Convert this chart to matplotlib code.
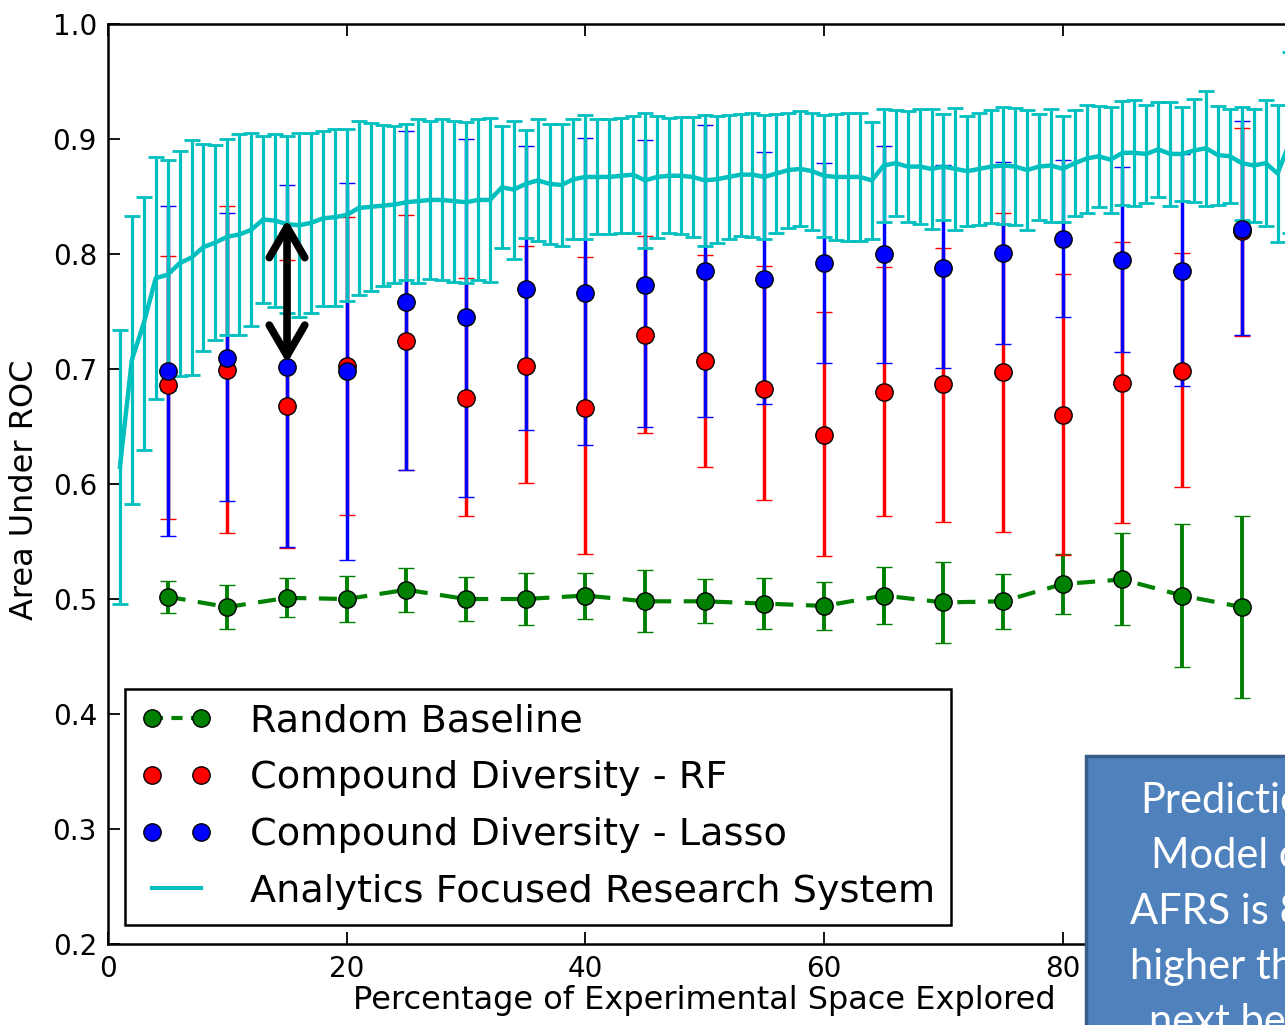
import numpy as np
import matplotlib
matplotlib.use("Agg")
import matplotlib.pyplot as plt
from matplotlib.lines import Line2D
from matplotlib.patches import Rectangle

plt.rcParams['font.family'] = ['DejaVu Sans']
plt.rcParams['lines.scale_dashes'] = False

# ---------------- data ----------------
pct = [5, 10, 15, 20, 25, 30, 35, 40, 45, 50, 55, 60, 65, 70, 75, 80, 85, 90, 95]

random_mean = [0.502, 0.493, 0.501, 0.500, 0.508, 0.500, 0.500, 0.503, 0.498, 0.498,
               0.496, 0.494, 0.503, 0.497, 0.498, 0.513, 0.517, 0.503, 0.493]
random_err = [0.014, 0.019, 0.017, 0.020, 0.019, 0.019, 0.023, 0.020, 0.027, 0.019,
              0.022, 0.021, 0.025, 0.035, 0.024, 0.026, 0.040, 0.062, 0.079]

rf_mean = [0.686, 0.699, 0.668, 0.703, 0.724, 0.675, 0.703, 0.666, 0.730, 0.707,
           0.683, 0.643, 0.680, 0.687, 0.697, 0.660, 0.688, 0.698, 0.820]
rf_lo = [0.570, 0.557, 0.544, 0.573, 0.612, 0.572, 0.601, 0.539, 0.644, 0.615,
         0.586, 0.537, 0.572, 0.567, 0.558, 0.538, 0.566, 0.597, 0.729]
rf_hi = [0.798, 0.842, 0.795, 0.832, 0.834, 0.779, 0.807, 0.797, 0.816, 0.799,
         0.790, 0.750, 0.789, 0.805, 0.836, 0.783, 0.810, 0.801, 0.910]

lasso_mean = [0.698, 0.710, 0.702, 0.698, 0.758, 0.745, 0.770, 0.766, 0.773, 0.785,
              0.778, 0.792, 0.800, 0.788, 0.801, 0.813, 0.795, 0.785, 0.822]
lasso_lo = [0.555, 0.585, 0.545, 0.534, 0.612, 0.589, 0.647, 0.634, 0.650, 0.658,
            0.670, 0.705, 0.705, 0.701, 0.722, 0.745, 0.715, 0.685, 0.730]
lasso_hi = [0.842, 0.836, 0.860, 0.862, 0.907, 0.900, 0.894, 0.901, 0.899, 0.912,
            0.889, 0.879, 0.894, 0.877, 0.880, 0.882, 0.876, 0.887, 0.916]

afrs_pct = list(range(1, 100))
afrs_mean = [0.615, 0.708, 0.740, 0.779, 0.782, 0.792, 0.797, 0.806, 0.810, 0.815,
             0.817, 0.821, 0.830, 0.829, 0.826, 0.825, 0.827, 0.831, 0.832, 0.834,
             0.840, 0.841, 0.842, 0.843, 0.845, 0.846, 0.847, 0.847, 0.846, 0.845,
             0.847, 0.847, 0.858, 0.856, 0.861, 0.864, 0.861, 0.860, 0.865, 0.867,
             0.867, 0.867, 0.868, 0.869, 0.864, 0.867, 0.868, 0.868, 0.867, 0.864,
             0.865, 0.867, 0.869, 0.869, 0.867, 0.870, 0.873, 0.874, 0.872, 0.868,
             0.867, 0.867, 0.867, 0.864, 0.877, 0.879, 0.876, 0.876, 0.874, 0.876,
             0.874, 0.872, 0.874, 0.876, 0.877, 0.876, 0.873, 0.876, 0.877, 0.874,
             0.879, 0.883, 0.885, 0.882, 0.888, 0.888, 0.887, 0.891, 0.887, 0.887,
             0.890, 0.892, 0.886, 0.885, 0.879, 0.877, 0.879, 0.870, 0.897]
afrs_err = [0.119, 0.125, 0.110, 0.105, 0.100, 0.098, 0.102, 0.090, 0.085, 0.085,
            0.087, 0.084, 0.073, 0.075, 0.077, 0.080, 0.078, 0.076, 0.077, 0.075,
            0.076, 0.073, 0.070, 0.068, 0.068, 0.071, 0.069, 0.070, 0.070, 0.070,
            0.070, 0.071, 0.053, 0.060, 0.047, 0.053, 0.052, 0.053, 0.052, 0.054,
            0.050, 0.050, 0.050, 0.051, 0.059, 0.053, 0.050, 0.051, 0.052, 0.057,
            0.055, 0.054, 0.053, 0.054, 0.054, 0.052, 0.050, 0.050, 0.051, 0.053,
            0.055, 0.056, 0.056, 0.051, 0.049, 0.046, 0.048, 0.050, 0.052, 0.046,
            0.053, 0.048, 0.049, 0.049, 0.051, 0.051, 0.052, 0.046, 0.049, 0.046,
            0.046, 0.047, 0.044, 0.046, 0.045, 0.046, 0.043, 0.041, 0.045, 0.041,
            0.045, 0.050, 0.043, 0.041, 0.049, 0.049, 0.055, 0.060, 0.079]

labels = ["Random Baseline", "Compound Diversity - RF",
          "Compound Diversity - Lasso", "Analytics Focused Research System"]
xticks = [0, 20, 40, 60, 80]
yticks = [0.2, 0.3, 0.4, 0.5, 0.6, 0.7, 0.8, 0.9, 1.0]
box_text = "Prediction\nModel of\nAFRS is 8%\nhigher than\nnext best"

# ---------------- figure ----------------
W, H = 1285, 1025
fig = plt.figure(figsize=(W / 100, H / 100), dpi=100)
ax = fig.add_axes([108 / W, (H - 944) / H, 1193.5 / W, 920 / H])

rf_err = [np.array(rf_mean) - np.array(rf_lo), np.array(rf_hi) - np.array(rf_mean)]
lasso_err = [np.array(lasso_mean) - np.array(lasso_lo), np.array(lasso_hi) - np.array(lasso_mean)]

ax.errorbar(pct, random_mean, yerr=random_err, color='g', ecolor='g',
            linestyle=(0, (13, 9)), lw=3, marker='o', ms=12.5, mfc='g', mec='k', mew=1,
            elinewidth=2.8, capsize=6, capthick=1.6)
ax.errorbar(pct, rf_mean, yerr=rf_err, color='r', ecolor='r', linestyle='none',
            marker='o', ms=12.5, mfc='r', mec='k', mew=1,
            elinewidth=2.5, capsize=6, capthick=1.2)
ax.errorbar(pct, lasso_mean, yerr=lasso_err, color='b', ecolor='b', linestyle='none',
            marker='o', ms=12.5, mfc='b', mec='k', mew=1,
            elinewidth=2.5, capsize=6, capthick=1.2)
ax.errorbar(afrs_pct, afrs_mean, yerr=afrs_err, color='c', ecolor='c', lw=3.2,
            elinewidth=2.3, capsize=5.5, capthick=2)

# double-headed arrow
ax.annotate("", xy=(15, 0.705), xytext=(15, 0.830),
            arrowprops=dict(arrowstyle='<->,head_length=0.55,head_width=0.32',
                            mutation_scale=40, lw=5.5, color='k',
                            shrinkA=0, shrinkB=0))

ax.set_xlim(0, 100)
ax.set_ylim(0.2, 1.0)
ax.set_xticks(xticks)
ax.set_yticks(yticks)
ax.set_yticklabels([f"{v:.1f}" for v in yticks])
ax.tick_params(direction='in', length=8.6, width=1.3, top=True, right=True,
               labelsize=20, pad=8)
for s in ax.spines.values():
    s.set_linewidth(1.8)

ax.set_xlabel("Percentage of Experimental Space Explored", fontsize=23, labelpad=1)
ax.set_ylabel("Area Under ROC", fontsize=23)
ax.yaxis.set_label_coords(-(108 - 40) / 1193.5, (944 - 490) / 920)

handles = [
    Line2D([], [], color='g', linestyle=(0, (8, 6)), lw=3, marker='o', ms=12.5,
           mfc='g', mec='k', mew=1),
    Line2D([], [], color='r', linestyle='none', marker='o', ms=12.5, mfc='r', mec='k', mew=1),
    Line2D([], [], color='b', linestyle='none', marker='o', ms=12.5, mfc='b', mec='k', mew=1),
    Line2D([], [], color='c', lw=3),
]
leg = ax.legend(handles, labels, loc='lower left',
                bbox_to_anchor=(17 / 1193.5, 19 / 920), borderaxespad=0,
                fontsize=27.5, numpoints=2, handlelength=1.9, handletextpad=0.98,
                labelspacing=0.54, borderpad=0.4, fancybox=False, framealpha=1)
leg.get_frame().set_edgecolor('k')
leg.get_frame().set_linewidth(1.8)

# blue callout box (cropped at figure edge)
fig.patches.append(Rectangle((1086 / W, -0.1), 0.4, (H - 756) / H + 0.1,
                             transform=fig.transFigure, facecolor='#4F81BD',
                             edgecolor='#385D8A', lw=2.5, zorder=10))
fig.text(1234 / W, (H - 782) / H, box_text, ha='center', va='top', color='white',
         fontsize=30, family=['Lato', 'DejaVu Sans'], linespacing=1.56, zorder=11)

fig.savefig("out.png", dpi=100)
